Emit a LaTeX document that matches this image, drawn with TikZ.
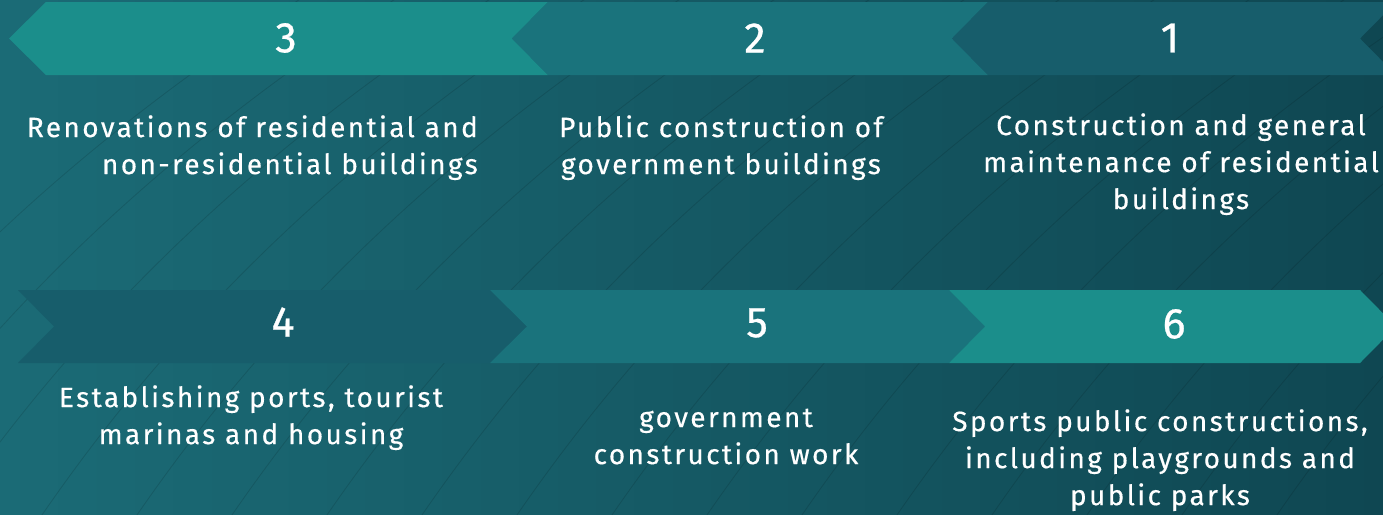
\documentclass[tikz,border=0pt]{standalone}
\usepackage{fontspec}
\setmainfont{Fira Sans}[LetterSpace=8.5,FakeBold=0.4]
\newfontfamily\numfont{Fira Sans}[FakeBold=0.6]
\begin{document}
\begin{tikzpicture}[x=1pt,y=-1pt,
  bgline/.style={draw=black,opacity=0.12,line width=0.8pt},
  chlight/.style={fill=cLight},
  chmed/.style={fill=cMed},
  chdark/.style={fill=cDark},
  num/.style={text=white,inner sep=0pt,font=\numfont\fontsize{43}{43}\selectfont},
  lbl/.style={text=white,inner sep=0pt,font=\fontsize{28}{37}\selectfont}]
\definecolor{cLight}{HTML}{1B8E8B}
\definecolor{cMed}{HTML}{1A737C}
\definecolor{cDark}{HTML}{175D6B}
\definecolor{bgL}{HTML}{1B6B76}
\definecolor{bgR}{HTML}{0F4752}
\useasboundingbox (0,0) rectangle (1383,514);
\shade[left color=bgL,right color=bgR] (0,0) rectangle (1383,514);
\begin{scope}
\clip (0,0) rectangle (1383,514);
% faint background sweep lines
\foreach \i in {0,...,16} {
  \draw[bgline] (\i*95-260,540) .. controls (\i*95-120,330) and (\i*95+60,150) .. (\i*95+330,-20);
}
% top row (pointing left)
\path[chlight] (9,38.5) -- (46,2) -- (548,2) -- (512,38.5) -- (548,75) -- (46,75) -- cycle;
\path[chmed] (512,38.5) -- (548,2) -- (988,2) -- (952,38.5) -- (988,75) -- (548,75) -- cycle;
\path[chdark] (952,38.5) -- (988,2) -- (1396,2) -- (1360,38.5) -- (1396,75) -- (988,75) -- cycle;
% bottom row (pointing right)
\path[chdark] (18,290) -- (490,290) -- (527,326.5) -- (490,363) -- (18,363) -- (54,326.5) -- cycle;
\path[chmed] (490,290) -- (949,290) -- (985,326.5) -- (949,363) -- (490,363) -- (527,326.5) -- cycle;
\path[chlight] (949,290) -- (1360,290) -- (1396,326.5) -- (1360,363) -- (949,363) -- (985,326.5) -- cycle;
\end{scope}
% numbers
\node[num] (n3) at (286,38) {3};
\node[num] (n2) at (755,38) {2};
\node[num] (n1) at (1170,38) {1};
\node[num] (n4) at (283,322) {4};
\node[num] (n5) at (757,323) {5};
\node[num] (n6) at (1174,324) {6};
% labels
\node[lbl,anchor=north east,align=right] (t3) at (478,111) {\strut Renovations of residential and\\non-residential buildings};
\node[lbl,anchor=north,align=center] (t2) at (721,111) {\strut Public construction of\\government buildings};
\node[lbl,anchor=north,align=center] (t1) at (1181,109) {\strut Construction and general\\maintenance of residential\\buildings};
\node[lbl,anchor=north,align=center] (t4) at (251,381) {\strut Establishing ports, tourist\\marinas and housing};
\node[lbl,anchor=north,align=center] (t5) at (726,401) {\strut government\\construction work};
\node[lbl,anchor=north,align=center] (t6) at (1160,405) {\strut Sports public constructions,\\including playgrounds and\\public parks};
\end{tikzpicture}
\end{document}
